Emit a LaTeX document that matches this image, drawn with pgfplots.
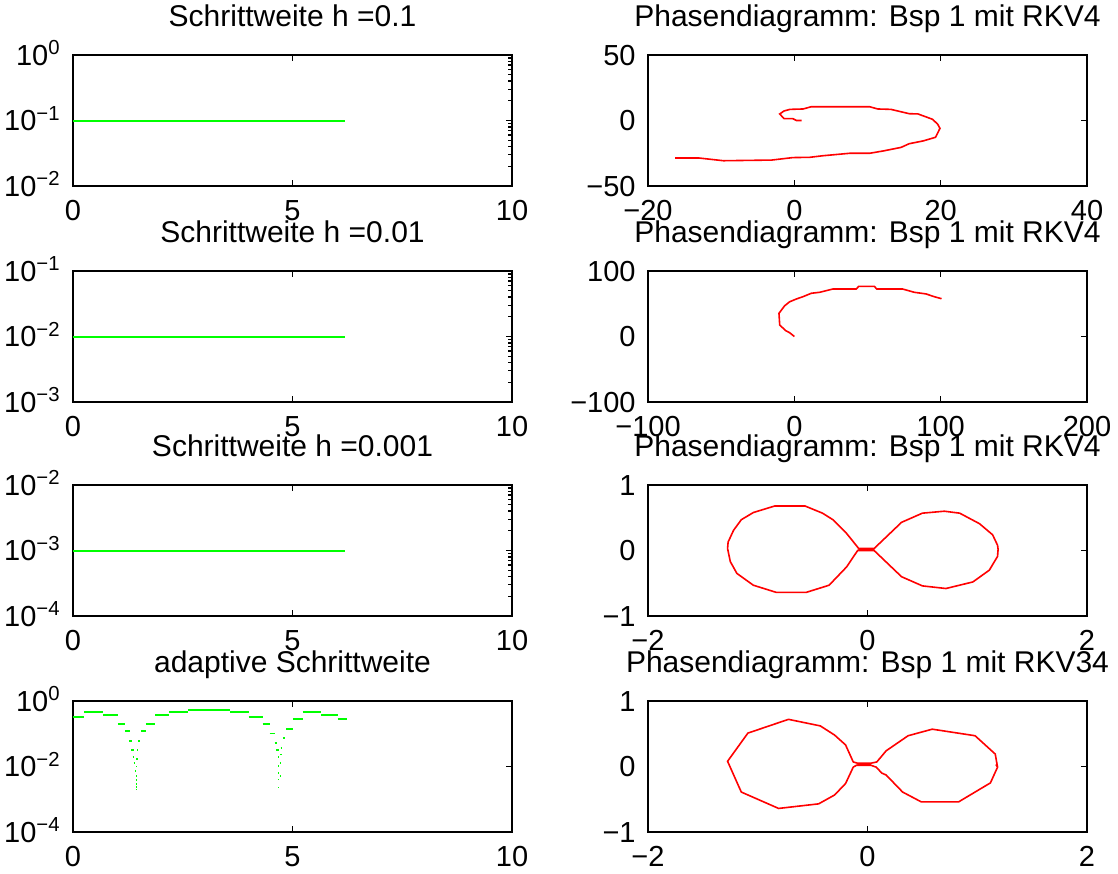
\documentclass[border=0pt]{standalone}
\usepackage{fontspec}
\setmainfont{Liberation Sans}
\usepackage{pgfplots}
\pgfplotsset{compat=1.18}
\newcommand{\tp}[1]{10\textsuperscript{#1}}
\definecolor{mgreen}{rgb}{0,1,0}
\definecolor{mred}{rgb}{1,0,0}

\pgfplotsset{
  mlabaxis/.style={
    scale only axis, width=219.5pt, height=65.5pt, anchor=south west,
    axis line style={line width=0.9pt},
    tick style={line width=0.7pt, black},
    major tick length=3pt, minor tick length=1.8pt, tick align=inside,
    ytick pos=right, yticklabel pos=left,
    title style={at={(0.5,1)}, anchor=base, yshift=8.2pt, inner sep=0pt,
      font=\fontsize{15}{17}\selectfont},
    xticklabel style={anchor=north, inner sep=0pt, yshift=-7pt},
    yticklabel style={anchor=base east, inner sep=0pt, xshift=-6pt, yshift=-5.2pt},
  },
  mlableft/.style={mlabaxis, xmin=0, xmax=10,
    xtick={0,5,10}, xticklabels={0,5,10}},
  gline/.style={mgreen, line width=1pt},
  rline/.style={mred, line width=0.8pt},
}

\begin{document}
\fontsize{14.5}{17}\selectfont
\begin{tikzpicture}
\useasboundingbox (0,0) rectangle (559pt,-436.5pt);

% ---- left column: step sizes ----
\begin{axis}[mlableft, ymode=log, at={(36.5pt,-93pt)},
  title={Schrittweite h =0.1},
  ymin=1e-2, ymax=1, ytick={1e-2,1e-1,1},
  yticklabels={\tp{−2},\tp{−1},\tp{0}}]
  \addplot[gline] coordinates {(0,0.1) (6.2,0.1)};
\end{axis}

\begin{axis}[mlableft, ymode=log, at={(36.5pt,-201pt)},
  title={Schrittweite h =0.01},
  ymin=1e-3, ymax=1e-1, ytick={1e-3,1e-2,1e-1},
  yticklabels={\tp{−3},\tp{−2},\tp{−1}}]
  \addplot[gline] coordinates {(0,0.01) (6.2,0.01)};
\end{axis}

\begin{axis}[mlableft, ymode=log, at={(36.5pt,-308pt)},
  title={Schrittweite h =0.001},
  ymin=1e-4, ymax=1e-2, ytick={1e-4,1e-3,1e-2},
  yticklabels={\tp{−4},\tp{−3},\tp{−2}}]
  \addplot[gline] coordinates {(0,0.001) (6.2,0.001)};
\end{axis}

\begin{axis}[mlableft, ymode=log, at={(36.5pt,-416pt)},
  title={adaptive Schrittweite},
  ymin=1e-4, ymax=1, ytick={1e-4,1e-2,1},
  minor tick style={draw=none},
  yticklabels={\tp{−4},\tp{−2},\tp{0}}]
  \addplot[gline, line width=0.9pt, unbounded coords=jump] table {
x y
0.00 0.324
0.26 0.324
0.26 nan
0.26 0.452
0.69 0.452
0.69 nan
0.69 0.380
1.02 0.380
1.02 nan
1.02 0.200
1.18 0.200
1.18 nan
1.18 0.120
1.29 0.120
1.29 nan
1.28 0.0617
1.34 0.0617
1.34 nan
1.32 0.0316
1.38 0.0316
1.38 nan
1.36 0.0200
1.39 0.0200
1.39 nan
1.38 0.0126
1.41 0.0126
1.41 nan
1.41 0.0074
1.44 0.0074
1.44 nan
1.43 0.0039
1.45 0.0039
1.45 nan
1.43 0.0030
1.45 0.0030
1.45 nan
1.43 0.0024
1.45 0.0024
1.45 nan
1.43 0.0020
1.45 0.0020
1.45 nan
1.44 0.0051
1.46 0.0051
1.46 nan
1.44 0.0100
1.46 0.0100
1.46 nan
1.44 0.0166
1.47 0.0166
1.47 nan
1.46 0.0316
1.49 0.0316
1.49 nan
1.49 0.0617
1.53 0.0617
1.53 nan
1.55 0.120
1.66 0.120
1.66 nan
1.66 0.200
1.87 0.200
1.87 nan
1.87 0.380
2.19 0.380
2.19 nan
2.19 0.452
2.62 0.452
2.62 nan
2.62 0.531
3.58 0.531
3.58 nan
3.58 0.452
4.00 0.452
4.00 nan
4.00 0.324
4.32 0.324
4.32 nan
4.32 0.200
4.48 0.200
4.48 nan
4.48 0.102
4.59 0.102
4.59 nan
4.59 0.0537
4.65 0.0537
4.65 nan
4.63 0.0316
4.69 0.0316
4.69 nan
4.67 0.0200
4.70 0.0200
4.70 nan
4.68 0.0105
4.70 0.0105
4.70 nan
4.68 0.0063
4.70 0.0063
4.70 nan
4.68 0.0040
4.70 0.0040
4.70 nan
4.68 0.0023
4.70 0.0023
4.70 nan
4.71 0.0051
4.73 0.0051
4.73 nan
4.71 0.0126
4.73 0.0126
4.73 nan
4.72 0.0234
4.75 0.0234
4.75 nan
4.73 0.0372
4.77 0.0372
4.77 nan
4.78 0.0724
4.83 0.0724
4.83 nan
4.86 0.141
5.01 0.141
5.01 nan
5.01 0.275
5.23 0.275
5.23 nan
5.23 0.452
5.65 0.452
5.65 nan
5.65 0.380
6.03 0.380
6.03 nan
6.03 0.275
6.25 0.275
};
\end{axis}

% ---- right column: phase diagrams ----
\begin{axis}[mlabaxis, at={(324pt,-93pt)},
  title={Phasendiagramm: Bsp 1 mit RKV4},
  xmin=-20, xmax=40, ymin=-50, ymax=50,
  xtick={-20,0,20,40}, xticklabels={−20,0,20,40},
  ytick={-50,0,50}, yticklabels={−50,0,50}]
  \addplot[rline] coordinates {
    (1,0) (0.3,0) (-0.2,1.4) (-1.4,1.4) (-2,5) (-1.4,7.3) (-0.6,8.5)
    (1.2,8.8) (2.3,10.5) (10.3,10.5) (11.4,8.8) (13.2,8.5) (15.7,5.2)
    (16.9,5) (18.9,0.9) (19.6,-2.9) (19.9,-6) (19.3,-12.8) (17.6,-15.6)
    (15.7,-17.7) (14.6,-20.5) (12.1,-23.3) (10.3,-25) (7.6,-25)
    (3.9,-26.9) (2.1,-28.1) (-0.2,-28.3) (-3.1,-30.2) (-9.7,-30.7)
    (-13.1,-28.6) (-16.3,-28.6)};
\end{axis}

\begin{axis}[mlabaxis, at={(324pt,-201pt)},
  title={Phasendiagramm: Bsp 1 mit RKV4},
  xmin=-100, xmax=200, ymin=-100, ymax=100,
  xtick={-100,0,100,200}, xticklabels={−100,0,100,200},
  ytick={-100,0,100}, yticklabels={−100,0,100}]
  \addplot[rline] coordinates {
    (0,0) (-3.2,5.8) (-5.9,8.9) (-10,17.6) (-10.5,35.4) (-6.6,47)
    (-3.2,53) (1.4,57.3) (5.9,60.8) (11.6,66) (17.3,67.5) (26.3,72.5)
    (42.3,72.5) (44,76.6) (54.7,76.6) (56.3,72.5) (74,72.5) (82,67.5)
    (90,65) (95.6,60.8) (100.6,57.7)};
\end{axis}

\begin{axis}[mlabaxis, at={(324pt,-308pt)},
  title={Phasendiagramm: Bsp 1 mit RKV4},
  xmin=-2, xmax=2, ymin=-1, ymax=1,
  xtick={-2,0,2}, xticklabels={−2,0,2},
  ytick={-1,0,1}, yticklabels={−1,0,1}]
  \addplot[rline] coordinates {
    (1.19,0.02) (1.185,0.08) (1.14,0.24) (1.02,0.41) (0.84,0.57)
    (0.7,0.6) (0.5,0.57) (0.31,0.43) (0.06,0.03) (-0.08,0.03)
    (-0.19,0.26) (-0.315,0.47) (-0.41,0.57) (-0.57,0.68) (-0.845,0.68)
    (-1.04,0.58) (-1.15,0.47) (-1.22,0.31) (-1.27,0.13) (-1.275,0.03)
    (-1.25,-0.17) (-1.19,-0.35) (-1.04,-0.53) (-0.83,-0.64) (-0.56,-0.64)
    (-0.35,-0.53) (-0.19,-0.25) (-0.09,0.0) (0.06,0.0) (0.31,-0.4)
    (0.5,-0.54) (0.715,-0.58) (0.96,-0.48) (1.11,-0.3) (1.185,-0.09)
    (1.19,0.02)};
\end{axis}

\begin{axis}[mlabaxis, at={(324pt,-416pt)},
  title={Phasendiagramm: Bsp 1 mit RKV34},
  xmin=-2, xmax=2, ymin=-1, ymax=1,
  xtick={-2,0,2}, xticklabels={−2,0,2},
  ytick={-1,0,1}, yticklabels={−1,0,1}]
  \addplot[rline] coordinates {
    (1.185,-0.01) (1.164,0.19) (0.98,0.47) (0.59,0.57) (0.37,0.47)
    (0.17,0.24) (0.12,0.14) (0.085,0.07) (0.03,0.05) (-0.09,0.05)
    (-0.13,0.07) (-0.2,0.33) (-0.3,0.48) (-0.43,0.62) (-0.72,0.72)
    (-1.09,0.51) (-1.275,0.08) (-1.15,-0.39) (-0.81,-0.64) (-0.445,-0.57)
    (-0.3,-0.435) (-0.2,-0.26) (-0.13,-0.01) (-0.1,0.02) (0.03,0.02)
    (0.08,-0.01) (0.13,-0.1) (0.17,-0.13) (0.32,-0.39) (0.49,-0.54)
    (0.83,-0.54) (1.12,-0.25) (1.185,-0.01) (1.17,0.03)};
\end{axis}
\end{tikzpicture}
\end{document}
